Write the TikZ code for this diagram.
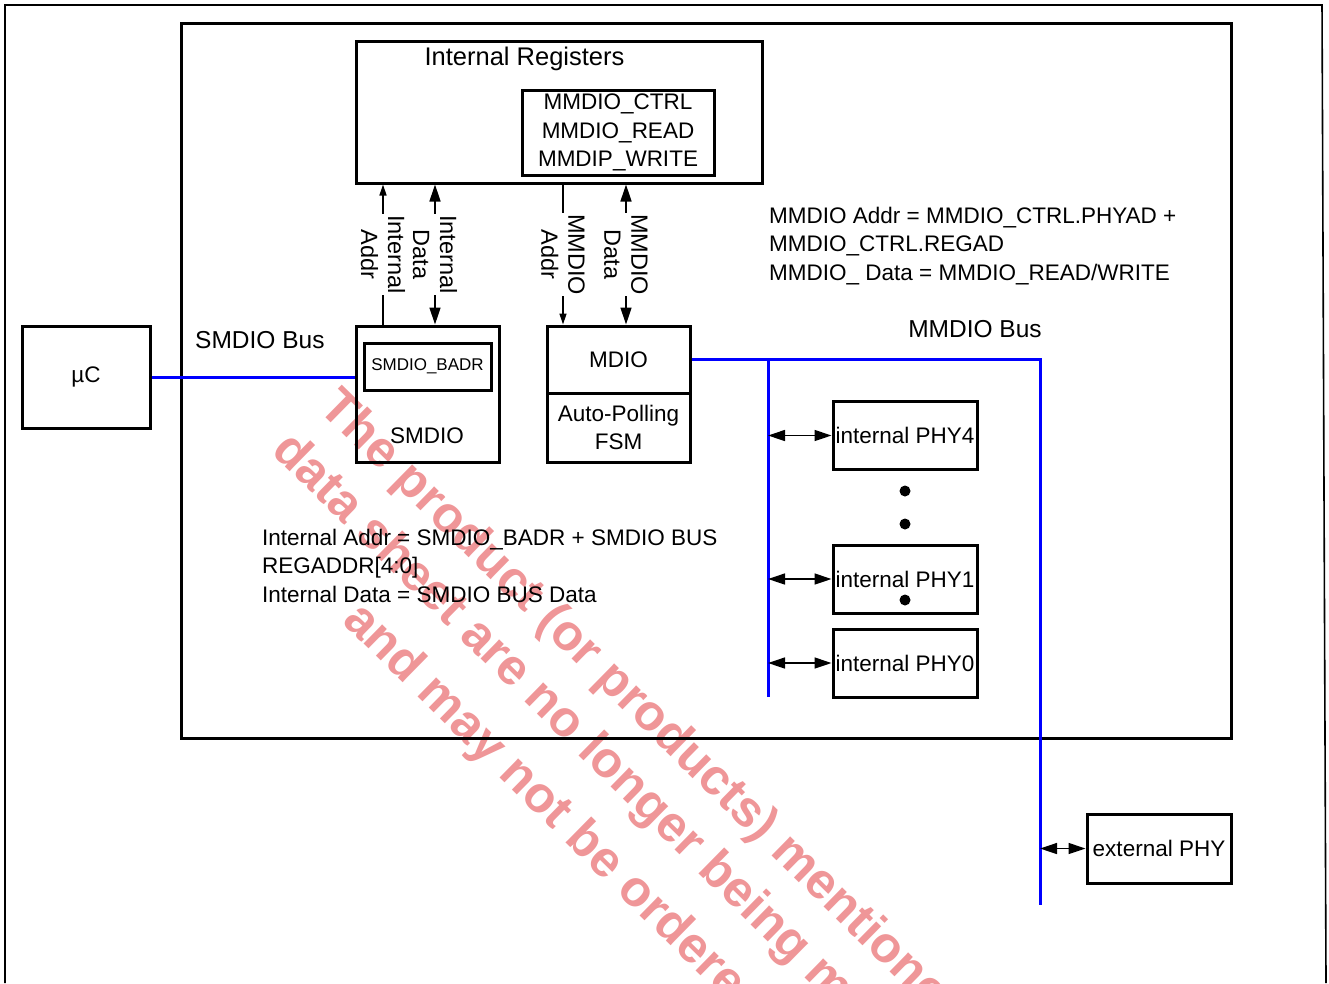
\documentclass[tikz,border=0pt]{standalone}
\usepackage{fontspec}
\setmainfont{Liberation Sans}
\usetikzlibrary{arrows.meta,positioning}

\definecolor{busblue}{RGB}{0,0,255}
\definecolor{wmpink}{RGB}{239,150,152}

\tikzset{
  txt/.style={font=\fontsize{22.5}{28.5}\selectfont, inner sep=0pt},
  blk/.style={txt, draw, line width=3pt, align=center},
  bus/.style={draw=busblue, line width=3pt},
  lbl/.style={font=\fontsize{23.5}{27}\selectfont, rotate=-90, align=center, fill=white, inner sep=1pt},
  smallarr/.style={-{Triangle[length=11pt,width=7pt]}},
}

\begin{document}
\begin{tikzpicture}[x=1pt,y=-1pt,>={Triangle[length=17pt,width=11pt]}]
\useasboundingbox (0,0) rectangle (1329,983);
\clip (0,0) rectangle (1329,983);

% watermark
\begin{scope}[every node/.style={text=wmpink, font=\fontsize{50.5}{60}\selectfont\bfseries, rotate=-44.5, anchor=base west, inner sep=0pt}]
  \node (wmA) at (317,409) {The product (or products) mentioned};
  \node (wmB) at (270,452) {data sheet are no longer being m};
  \node (wmC) at (341,622) {and may not be ordered};
\end{scope}

% page frame
\draw[line width=1.6pt] (5,983) -- (5,5) -- (1322,5) -- (1326,983);

% blocks
\begin{scope}[every node/.style={blk}]
  \node[minimum width=1050pt, minimum height=715pt] (chip) at (706,380.5) {};
  \node[minimum width=406pt, minimum height=142pt] (regs) at (559,112) {};
  \node[minimum width=192pt, minimum height=85pt] (mmregs) at (618,132.5) {MMDIO\_CTRL\\MMDIO\_READ\\MMDIP\_WRITE};
  \node[minimum width=128pt, minimum height=102pt] (uc) at (86,377) {µC};
  \node[minimum width=143pt, minimum height=136pt] (smdio) at (427.5,394) {};
  \node[minimum width=127pt, minimum height=47pt, font=\fontsize{17}{20}\selectfont] (badr) at (427.5,366.5) {SMDIO\_BADR};
  \node[minimum width=143pt, minimum height=67pt] (mdio) at (618.5,359.5) {MDIO};
  \node[minimum width=143pt, minimum height=69pt] (fsm) at (618.5,427.5) {Auto-Polling\\FSM};
  \foreach \n/\y in {4/435.5, 1/579, 0/663}
    \node[minimum width=144pt, minimum height=68pt] (phy\n) at (905,\y) {internal PHY\n};
  \node[minimum width=144pt, minimum height=69pt] (ext) at (1159,848.5) {external PHY};
\end{scope}

% texts
\begin{scope}[every node/.style={txt}]
  \node[font=\fontsize{25.5}{30}\selectfont] (regtitle) at (524.5,59) {Internal Registers};
  \node (smdiotxt) at (427,436) {SMDIO};
  \node[font=\fontsize{24.5}{30}\selectfont, anchor=west] (smbus) at (195,340) {SMDIO Bus};
  \node[font=\fontsize{24.5}{30}\selectfont] (mmbus) at (975,329) {MMDIO Bus};
  \node[align=left, anchor=west] (mmeq) at (769,246) {MMDIO Addr = MMDIO\_CTRL.PHYAD +\\MMDIO\_CTRL.REGAD\\MMDIO\_ Data = MMDIO\_READ/WRITE};
  \node[align=left, anchor=west] (smeq) at (262,565.5) {Internal Addr = SMDIO\_BADR + SMDIO BUS\\REGADDR[4:0]\\Internal Data = SMDIO BUS Data};
\end{scope}

% register access lines
\foreach \nm/\x in {ia/383, id/435, ma/563, md/626}
  \coordinate (\nm) at (\x,254.5);

\begin{scope}[every edge/.style={draw, line width=1.4pt}]
  \path [smallarr] (ia |- smdio.north) edge node[lbl] (iaddr) {Internal\\Addr} (ia |- regs.south);
  \path [<->] (id |- smdio.north) edge node[lbl] (idata) {Internal\\Data} (id |- regs.south);
  \path [smallarr] (ma |- regs.south) edge node[lbl] (maddr) {MMDIO\\Addr} (ma |- mdio.north);
  \path [<->] (md |- mdio.north) edge node[lbl] (mdata) {MMDIO\\Data} (md |- regs.south);
\end{scope}

% buses
\coordinate (busR) at (1040,359.5);
\coordinate (busRend) at (1040,905);
\coordinate (busL) at (768,359.5);
\coordinate (busLend) at (768,697);
\draw[bus] (uc.east) -- (uc.east -| smdio.west);
\draw[bus] (mdio.east) -- (busR) -- (busRend);
\draw[bus] (busL) -- (busLend);

\begin{scope}[every edge/.style={draw, line width=1.4pt}]
  \foreach \n in {4,1,0}
    \path [<->] (phy\n.west -| busL) edge (phy\n.west);
  \path [<->] (ext.west -| busR) edge (ext.west);
\end{scope}

\foreach \y in {491,524,600}
  \fill (905,\y) circle (5.5pt);
\end{tikzpicture}
\end{document}
